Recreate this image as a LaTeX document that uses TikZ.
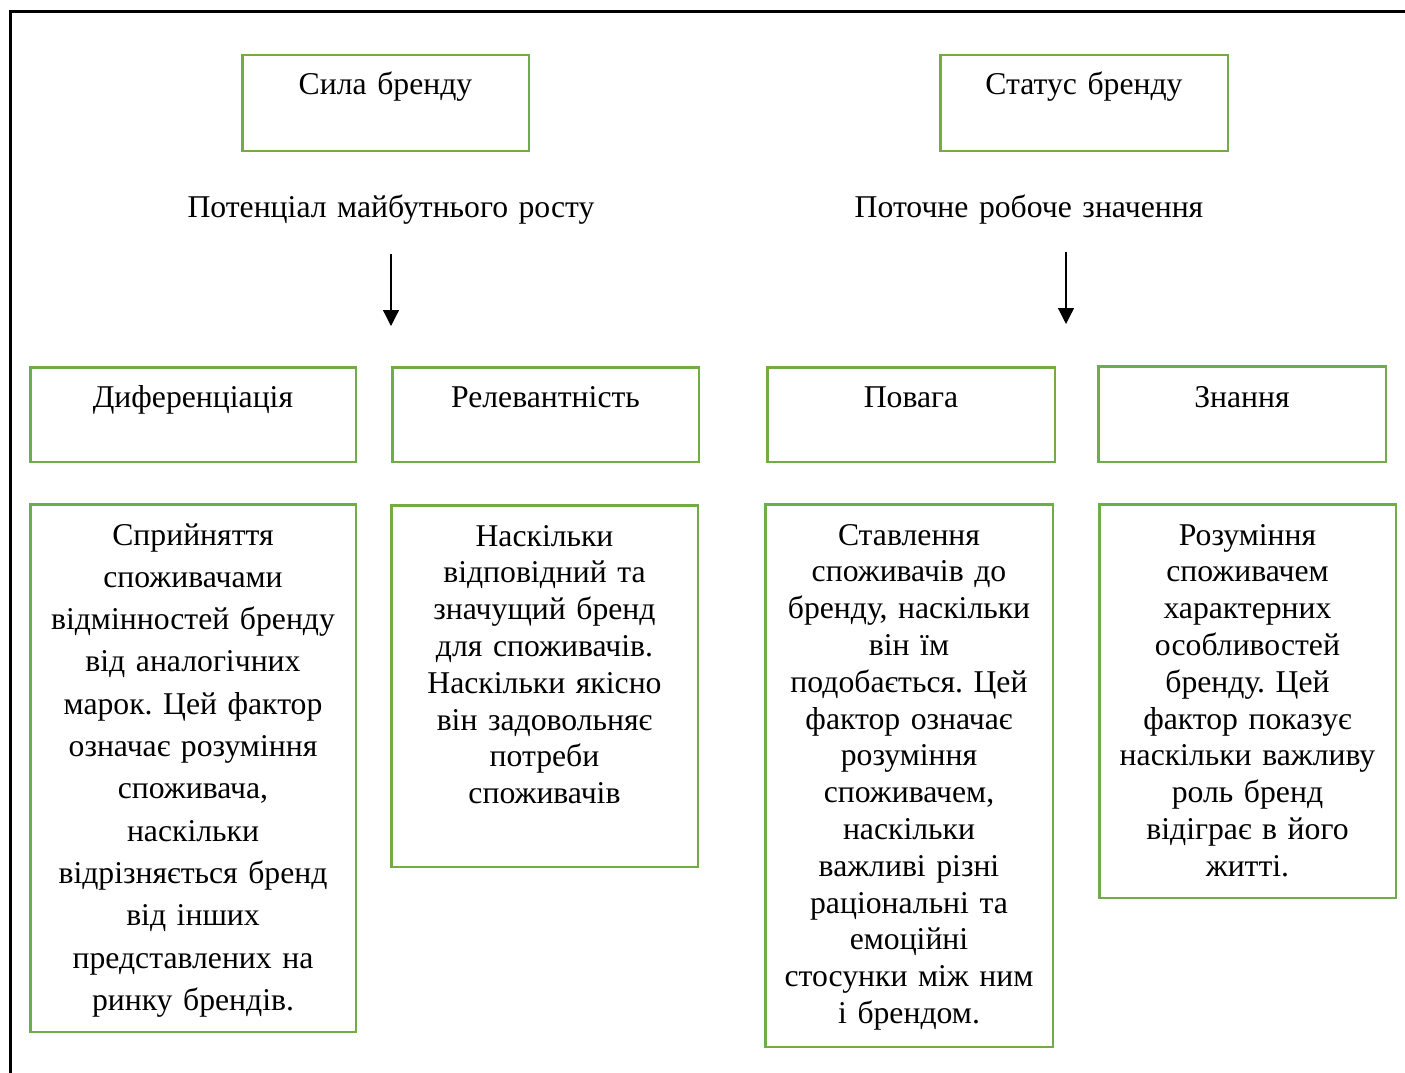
\documentclass[tikz,border=0pt]{standalone}
\usepackage{fontspec}
\setmainfont{Liberation Serif}
\frenchspacing
\usetikzlibrary{arrows.meta}
\definecolor{boxgreen}{HTML}{70AD47}
\begin{document}
\begin{tikzpicture}[x=1pt,y=-1pt,
  box/.style={draw=boxgreen, line width=2.5pt, inner sep=0pt, outer sep=0pt,
    anchor=north west},
  lbl/.style={anchor=base, inner sep=0pt, align=center, text width=420pt,
    font=\fontsize{31.7}{36.8}\selectfont},
  widelbl/.style={lbl, font=\fontsize{31.7}{42.3}\selectfont},
  arr/.style={-{Triangle[width=16pt,length=16pt]}, line width=1.3pt},
  frame/.style={line width=3pt, line cap=rect}]
\useasboundingbox (0,0) rectangle (1405,1073);

% outer frame (top and left edges)
\draw[frame] (10,1073) -- (10,12) -- (1405,12);

% top level
\node[box, minimum width=286.5pt, minimum height=95.5pt] (sila) at (242.25,55.25) {};
\node[lbl] (silaT) at (385.5,95) {Сила бренду};
\node[box, minimum width=287.5pt, minimum height=95.5pt] (status) at (940.25,55.25) {};
\node[lbl] (statusT) at (1084,95) {Статус бренду};

\node[lbl] (potential) at (391,217) {Потенціал майбутнього росту};
\node[lbl] (current) at (1029,217) {Поточне робоче значення};

\coordinate (a1s) at (391,254);
\coordinate (a1e) at (391,326);
\coordinate (a2s) at (1066,252);
\coordinate (a2e) at (1066,324);
\draw[arr] (a1s) -- (a1e);
\draw[arr] (a2s) -- (a2e);

% factor boxes
\node[box, minimum width=325.5pt, minimum height=94.5pt] (dif) at (30.25,367.25) {};
\node[lbl] (difT) at (193,407) {Диференціація};
\node[box, minimum width=306.5pt, minimum height=94.5pt] (rel) at (392.25,367.25) {};
\node[lbl] (relT) at (545.5,407) {Релевантність};
\node[box, minimum width=287.5pt, minimum height=94.5pt] (pov) at (767.25,367.25) {};
\node[lbl] (povT) at (911,407) {Повага};
\node[box, minimum width=287.5pt, minimum height=95.5pt] (zn) at (1098.25,366.25) {};
\node[lbl] (znT) at (1242,407) {Знання};

% description boxes
\node[box, minimum width=325.5pt, minimum height=527.5pt] (difD) at (30.25,504.25) {};
\node[widelbl] (difDT) at (193,545) {Сприйняття\\
споживачами\\
відмінностей бренду\\
від аналогічних\\
марок. Цей фактор\\
означає розуміння\\
споживача,\\
наскільки\\
відрізняється бренд\\
від інших\\
представлених на\\
ринку брендів.};

\node[box, minimum width=306.5pt, minimum height=361.5pt] (relD) at (391.25,505.25) {};
\node[lbl] (relDT) at (544.5,546) {Наскільки\\
відповідний та\\
значущий бренд\\
для споживачів.\\
Наскільки якісно\\
він задовольняє\\
потреби\\
споживачів};

\node[box, minimum width=287.5pt, minimum height=542.5pt] (povD) at (765.25,504.25) {};
\node[lbl] (povDT) at (909,545) {Ставлення\\
споживачів до\\
бренду, наскільки\\
він їм\\
подобається. Цей\\
фактор означає\\
розуміння\\
споживачем,\\
наскільки\\
важливі різні\\
раціональні та\\
емоційні\\
стосунки між ним\\
і брендом.};

\node[box, minimum width=296.5pt, minimum height=393.5pt] (znD) at (1099.25,504.25) {};
\node[lbl] (znDT) at (1247.5,545) {Розуміння\\
споживачем\\
характерних\\
особливостей\\
бренду. Цей\\
фактор показує\\
наскільки важливу\\
роль бренд\\
відіграє в його\\
житті.};
\end{tikzpicture}
\end{document}
